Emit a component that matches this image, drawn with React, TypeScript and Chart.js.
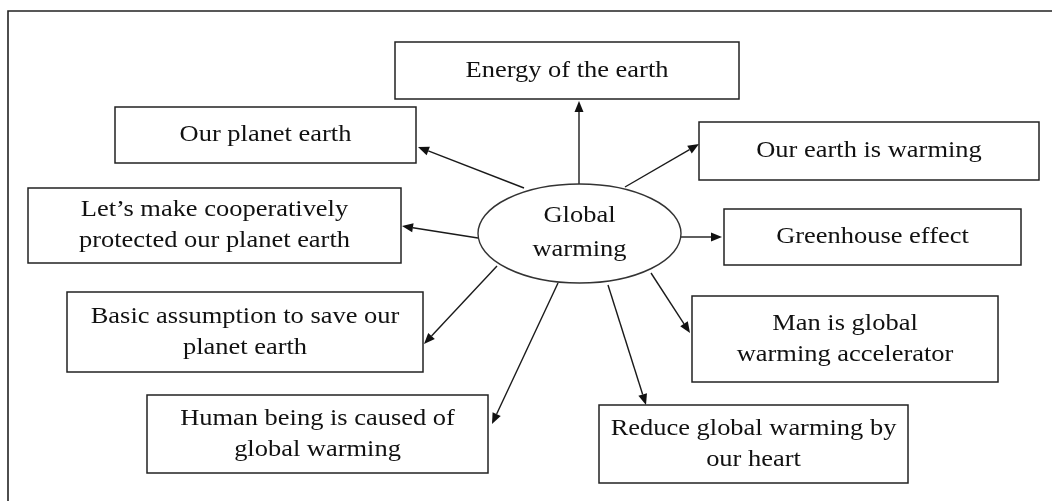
import React, { useEffect, useRef } from "react";
import { Chart, registerables } from "chart.js";

Chart.register(...registerables);

// Diagram nodes (box extents in diagram units)
const nodeLabels: string[][] = [
  ["Energy of the earth"],
  ["Our planet earth"],
  ["Let\u2019s make cooperatively", "protected our planet earth"],
  ["Basic assumption to save our", "planet earth"],
  ["Human being is caused of", "global warming"],
  ["Our earth is warming"],
  ["Greenhouse effect"],
  ["Man is global", "warming accelerator"],
  ["Reduce global warming by", "our heart"],
];
const nodeLeft = [395, 115, 28, 67, 147, 699, 724, 692, 599];
const nodeTop = [42, 107, 188, 292, 395, 122, 209, 296, 405];
const nodeRight = [739, 416, 401, 423, 488, 1039, 1021, 998, 908];
const nodeBottom = [99, 163, 263, 372, 473, 180, 265, 382, 483];

const centerLabel = ["Global", "warming"];
const centerX = 579.5;
const centerY = 233.5;
const centerRx = 101.5;
const centerRy = 49.5;

// Arrows: start (on the ellipse) and tip (at a box)
const arrowFromX = [579, 524, 478, 497, 558, 625, 681, 651, 608];
const arrowFromY = [184, 188, 238, 266, 283, 187, 237, 273, 285];
const arrowToX = [579, 418, 402, 424, 492, 699, 722, 690, 646];
const arrowToY = [101, 147, 226, 344, 424, 144, 237, 333, 405];

const frameLeft = 8;
const frameTop = 11;

const FONT = '23px "Liberation Serif", "Times New Roman", serif';
const H_SCALE = 1.15;
const LINE_H = 31;

const diagramPlugin = {
  id: "diagram",
  afterDatasetsDraw(chart: any) {
    const ctx: CanvasRenderingContext2D = chart.ctx;
    const xs = chart.scales.x;
    const ys = chart.scales.y;
    const px = (v: number) => xs.getPixelForValue(v);
    const py = (v: number) => ys.getPixelForValue(v);

    ctx.save();
    // outer frame
    ctx.strokeStyle = "#222";
    ctx.lineWidth = 1.6;
    ctx.beginPath();
    ctx.moveTo(px(frameLeft), py(520));
    ctx.lineTo(px(frameLeft), py(frameTop));
    ctx.lineTo(px(1080), py(frameTop));
    ctx.stroke();

    const drawText = (lines: string[], cx: number, cy: number, lh: number) => {
      ctx.font = FONT;
      ctx.fillStyle = "#111";
      ctx.textAlign = "center";
      ctx.textBaseline = "alphabetic";
      const n = lines.length;
      lines.forEach((t, i) => {
        const y = cy + 6 + (i - (n - 1) / 2) * lh;
        ctx.save();
        ctx.translate(cx, y);
        ctx.scale(H_SCALE, 1);
        ctx.fillText(t, 0, 0);
        ctx.restore();
      });
    };

    // arrows
    ctx.strokeStyle = "#1a1a1a";
    ctx.fillStyle = "#111";
    ctx.lineWidth = 1.4;
    for (let i = 0; i < arrowFromX.length; i++) {
      const x1 = px(arrowFromX[i]);
      const y1 = py(arrowFromY[i]);
      const x2 = px(arrowToX[i]);
      const y2 = py(arrowToY[i]);
      const ang = Math.atan2(y2 - y1, x2 - x1);
      const hl = 11;
      const hw = 4.5;
      const bx = x2 - hl * Math.cos(ang);
      const by = y2 - hl * Math.sin(ang);
      ctx.beginPath();
      ctx.moveTo(x1, y1);
      ctx.lineTo(bx, by);
      ctx.stroke();
      ctx.beginPath();
      ctx.moveTo(x2, y2);
      ctx.lineTo(bx + hw * Math.sin(ang), by - hw * Math.cos(ang));
      ctx.lineTo(bx - hw * Math.sin(ang), by + hw * Math.cos(ang));
      ctx.closePath();
      ctx.fill();
    }

    // boxes
    for (let i = 0; i < nodeLabels.length; i++) {
      const l = px(nodeLeft[i]);
      const t = py(nodeTop[i]);
      const r = px(nodeRight[i]);
      const b = py(nodeBottom[i]);
      ctx.fillStyle = "#fff";
      ctx.fillRect(l, t, r - l, b - t);
      ctx.strokeStyle = "#222";
      ctx.lineWidth = 1.5;
      ctx.strokeRect(l, t, r - l, b - t);
      drawText(nodeLabels[i], (l + r) / 2, (t + b) / 2, LINE_H);
    }

    // centre ellipse
    const ex = px(centerX);
    const ey = py(centerY);
    const erx = Math.abs(px(centerX + centerRx) - ex);
    const ery = Math.abs(py(centerY + centerRy) - ey);
    ctx.beginPath();
    ctx.ellipse(ex, ey, erx, ery, 0, 0, Math.PI * 2);
    ctx.fillStyle = "#fff";
    ctx.fill();
    ctx.strokeStyle = "#333";
    ctx.lineWidth = 1.4;
    ctx.stroke();
    drawText(centerLabel, ex, ey - 1, 34);

    ctx.restore();
  },
};

export default function App() {
  const ref = useRef<HTMLCanvasElement | null>(null);
  useEffect(() => {
    if (!ref.current) return;
    const chart = new Chart(ref.current, {
      type: "scatter",
      data: {
        datasets: [
          {
            label: "nodes",
            data: nodeLeft.map((l, i) => ({
              x: (l + nodeRight[i]) / 2,
              y: (nodeTop[i] + nodeBottom[i]) / 2,
            })),
            pointRadius: 0,
          },
        ],
      },
      options: {
        animation: false,
        responsive: false,
        maintainAspectRatio: false,
        events: [],
        layout: { padding: 0 },
        plugins: {
          legend: { display: false },
          tooltip: { enabled: false },
        },
        scales: {
          x: { type: "linear", min: 0, max: 1052, display: false },
          y: { type: "linear", min: 0, max: 501, reverse: true, display: false },
        },
      },
      plugins: [diagramPlugin],
    });
    return () => chart.destroy();
  }, []);
  return (
    <div style={{ position: "fixed", left: 0, top: 0, width: 1052, height: 501, background: "#fff" }}>
      <canvas ref={ref} width={1052} height={501} style={{ display: "block", width: 1052, height: 501 }} />
    </div>
  );
}
